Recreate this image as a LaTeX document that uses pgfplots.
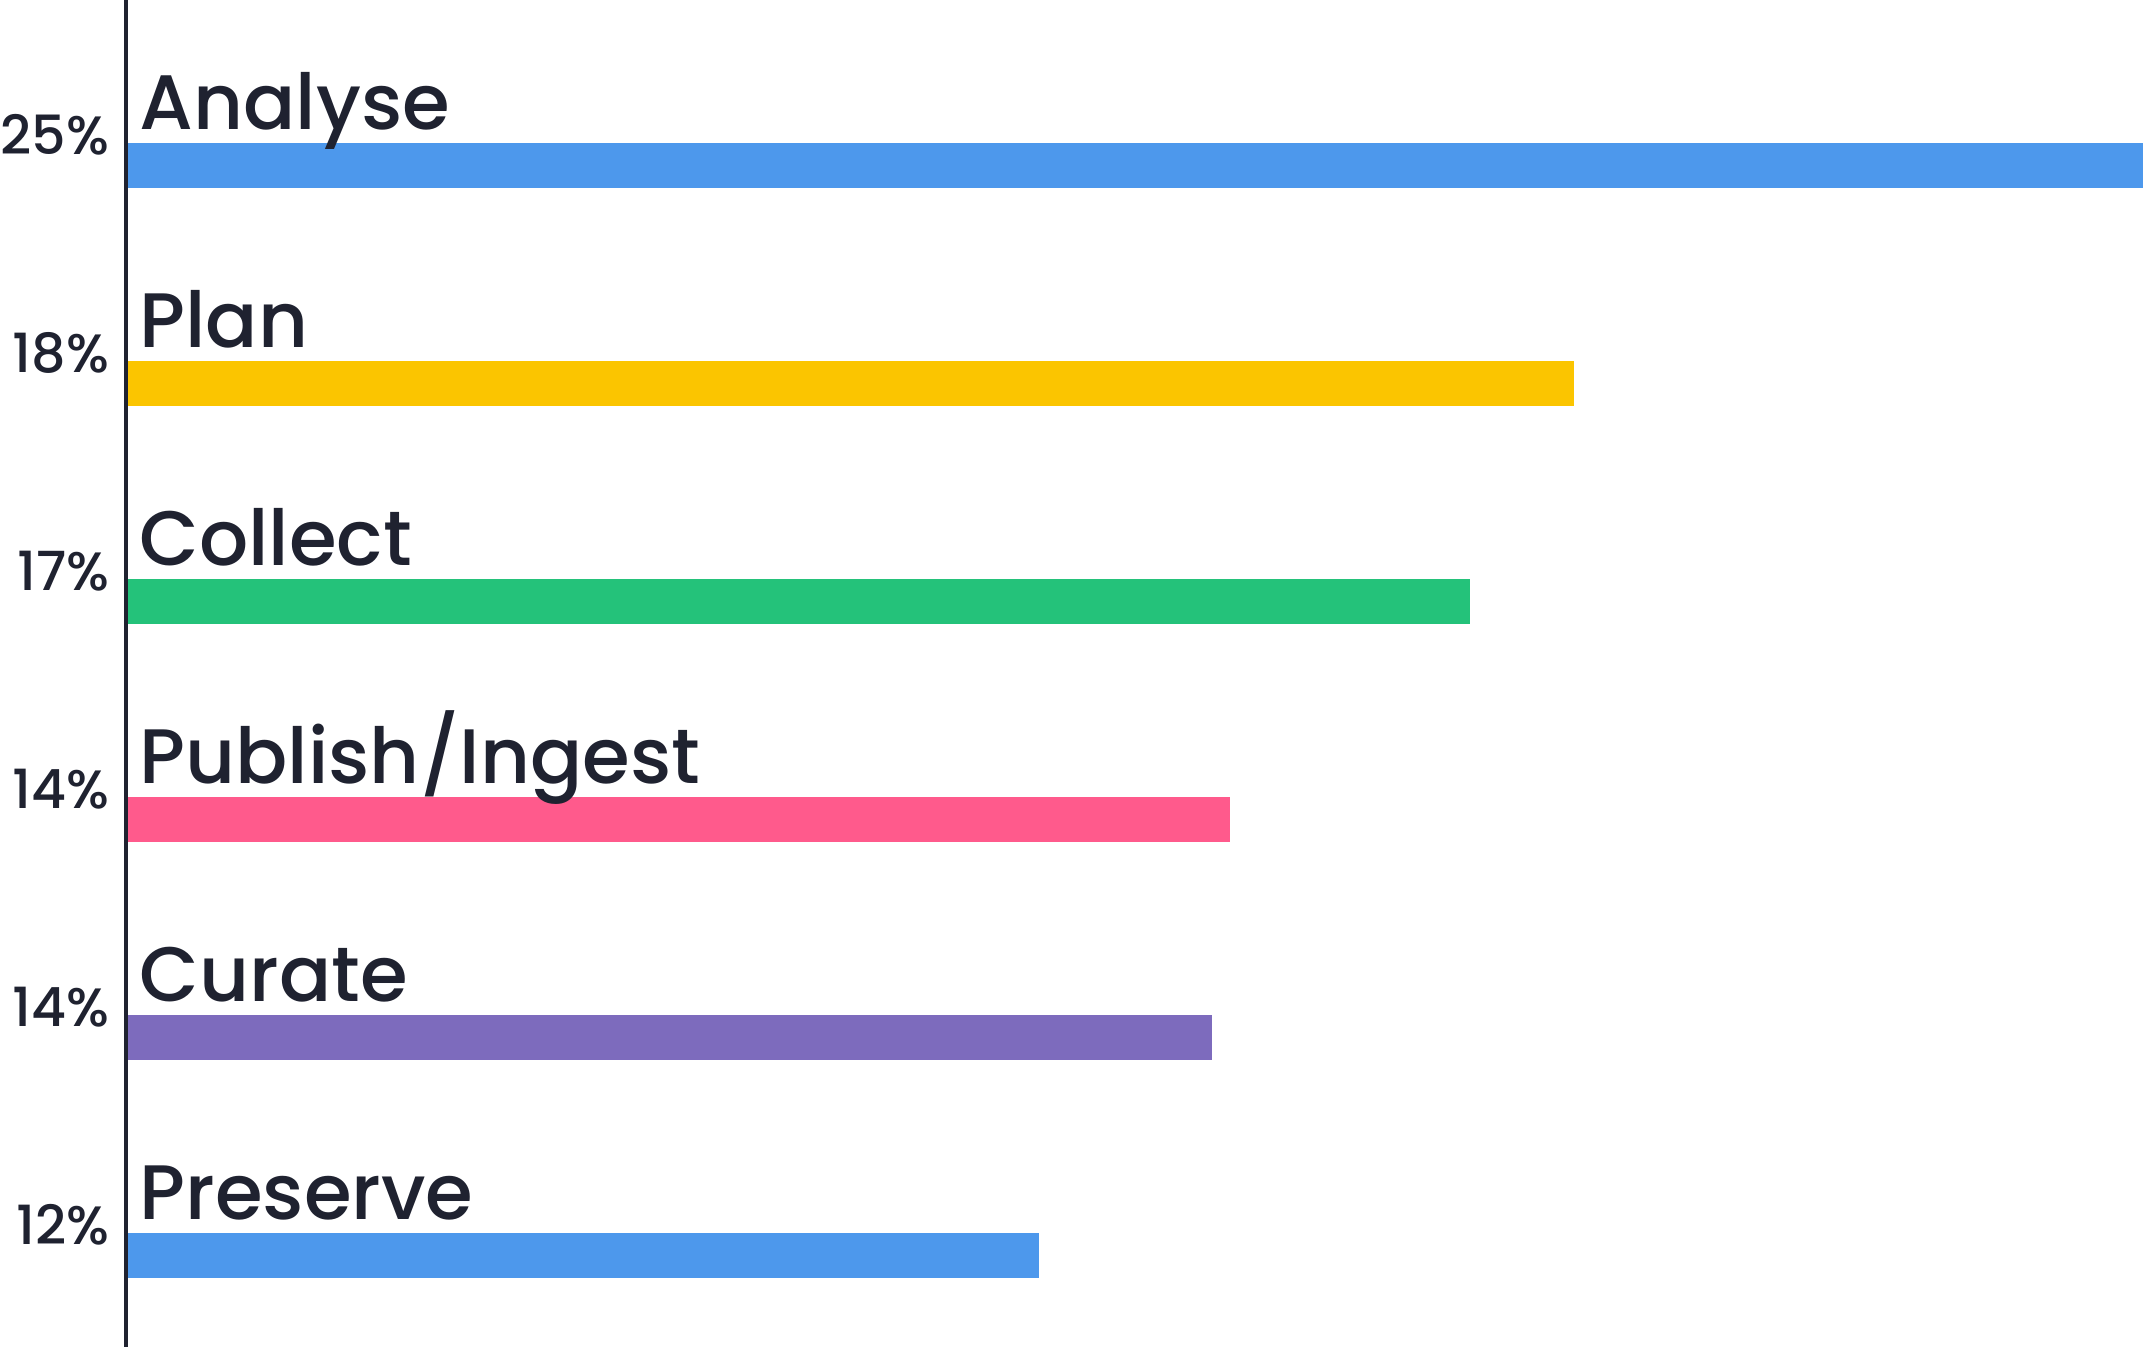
\documentclass[border=0pt]{standalone}
\usepackage{fontspec}
\setmainfont{Poppins}[UprightFont={* Medium}]
\usepackage{pgfplots}
\pgfplotsset{compat=1.18}
\definecolor{cblue}{HTML}{4D98EC}
\definecolor{cyellow}{HTML}{FBC500}
\definecolor{cgreen}{HTML}{24C27A}
\definecolor{cpink}{HTML}{FF5A8C}
\definecolor{cpurple}{HTML}{7D6BBD}
\definecolor{tc}{HTML}{1F2230}
\begin{document}
\begin{tikzpicture}
\begin{axis}[
  at={(31.5pt,0pt)}, anchor=south west,
  width=504.25pt, height=336.75pt, scale only axis,
  xmin=0, xmax=25, ymin=-0.422, ymax=5.761,
  axis x line=none, axis y line*=left,
  y axis line style={line width=0.8pt, color=tc},
  ytick={0,1,2,3,4,5},
  yticklabels={12\%,14\%,14\%,17\%,18\%,25\%},
  yticklabel style={anchor=base east, inner sep=0pt, xshift=-4pt, yshift=2.75pt,
    font=\fontsize{13.5}{16}\selectfont, text=tc},
  major tick length=0pt,
  xbar, bar width=11.25pt, bar shift=0pt,
  clip=false, axis on top,
]
\addplot[fill=cblue, draw=none] coordinates {(25.0,5)};
\addplot[fill=cyellow, draw=none] coordinates {(17.95,4)};
\addplot[fill=cgreen, draw=none] coordinates {(16.66,3)};
\addplot[fill=cpink, draw=none] coordinates {(13.68,2)};
\addplot[fill=cpurple, draw=none] coordinates {(13.46,1)};
\addplot[fill=cblue, draw=none] coordinates {(11.32,0)};
\begin{scope}[every node/.style={anchor=base west, inner sep=0pt, xshift=3.2pt, yshift=9pt,
    font=\fontsize{19.3}{23}\selectfont, text=tc}]
\node at (axis cs:0,5) {Analyse};
\node at (axis cs:0,4) {Plan};
\node at (axis cs:0,3) {Collect};
\node at (axis cs:0,2) {Publish/Ingest};
\node at (axis cs:0,1) {Curate};
\node at (axis cs:0,0) {Preserve};
\end{scope}
\end{axis}
\pgfresetboundingbox
\path (0,0) rectangle (536.5pt,336.75pt);
\end{tikzpicture}
\end{document}
